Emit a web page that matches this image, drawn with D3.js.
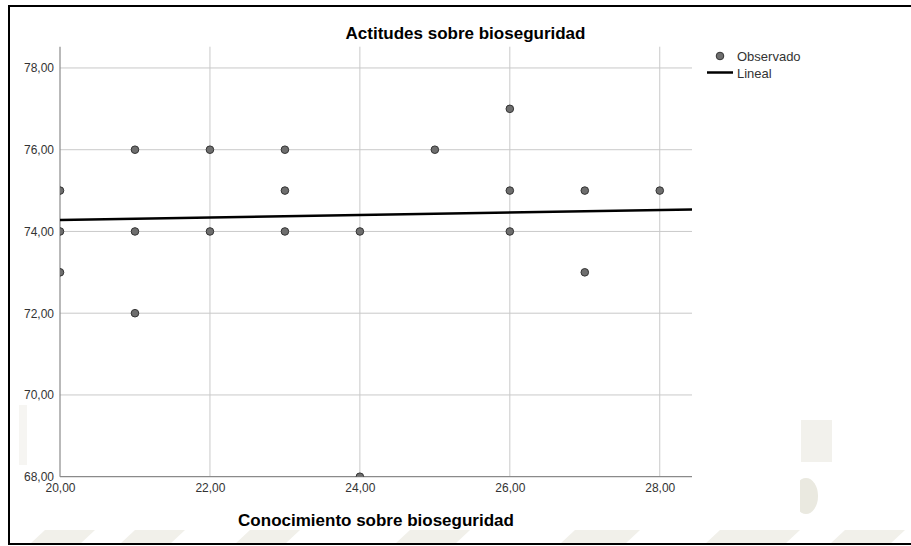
<!DOCTYPE html>
<html>
<head>
<meta charset="utf-8">
<script src="https://cdn.jsdelivr.net/npm/d3@7"></script>
<style>
  body { margin: 0; background: #fff; }
  text { font-family: "Liberation Sans", Arial, sans-serif; }
</style>
</head>
<body>
<div id="chart-area"></div>
<script>
// Observed points (Conocimiento, Actitudes)
var conocimiento = [20, 20, 20, 21, 21, 21, 22, 22, 23, 23, 23, 24, 24, 25, 26, 26, 26, 27, 27, 28];
var actitudes    = [75, 74, 73, 76, 74, 72, 76, 74, 76, 75, 74, 74, 68, 76, 77, 75, 74, 75, 73, 75];

// Linear fit (ends of the line)
var linealX = [20, 28.43];
var linealY = [74.28, 74.54];

var xTicks = [20, 22, 24, 26, 28];
var yTicks = [68, 70, 72, 74, 76, 78];

var data = conocimiento.map((c, i) => ({ x: c, y: actitudes[i] }));

var svg = d3.select("#chart-area").append("svg")
    .attr("width", 911)
    .attr("height", 546);

// faint watermark around the pasted chart
var wm = svg.append("g");
wm.append("rect").attr("x", 801).attr("y", 420).attr("width", 31).attr("height", 42).attr("fill", "#f2f1ec");
wm.append("ellipse").attr("cx", 806).attr("cy", 496).attr("rx", 12).attr("ry", 18).attr("fill", "#eae9e0");
wm.append("rect").attr("x", 19).attr("y", 405).attr("width", 8).attr("height", 60).attr("fill", "#f6f5f2");
[[30, 95], [120, 185], [235, 300], [395, 470], [560, 640], [705, 800], [830, 905]].forEach(s => {
    wm.append("polygon")
        .attr("points", `${s[0]},544 ${s[0] + 15},530 ${s[1]},530 ${s[1] - 15},544`)
        .attr("fill", "#f1f0ea");
});

// white chart panel
svg.append("rect").attr("x", 27).attr("y", 7).attr("width", 773).attr("height", 523).attr("fill", "#fff");

var x = d3.scaleLinear()
    .domain([20, 28.43])
    .range([60, 692]);

var y = d3.scaleLinear()
    .domain([68, 78.52])
    .range([476.7, 46.7]);

var fmt = v => d3.format(".2f")(v).replace(".", ",");

// gridlines
svg.append("g").selectAll("line")
    .data(yTicks.slice(1))
    .enter().append("line")
    .attr("x1", 60).attr("x2", 692)
    .attr("y1", d => y(d)).attr("y2", d => y(d))
    .attr("stroke", "#c9c9c9").attr("stroke-width", 1);

svg.append("g").selectAll("line")
    .data(xTicks.slice(1))
    .enter().append("line")
    .attr("x1", d => x(d)).attr("x2", d => x(d))
    .attr("y1", y.range()[1]).attr("y2", y.range()[0])
    .attr("stroke", "#c9c9c9").attr("stroke-width", 1);

// axes
var yAxis = svg.append("g")
    .attr("transform", "translate(60,0)")
    .call(d3.axisLeft(y).tickValues(yTicks).tickSize(0).tickPadding(6).tickFormat(fmt));
var xAxis = svg.append("g")
    .attr("transform", "translate(0,476.7)")
    .call(d3.axisBottom(x).tickValues(xTicks).tickSize(0).tickPadding(7).tickFormat(fmt));

[yAxis, xAxis].forEach(a => {
    a.select(".domain").remove();
    a.selectAll("text").attr("font-size", "12px").attr("fill", "#333")
        .style("font-family", "'Liberation Sans', Arial, sans-serif");
});

svg.append("line").attr("x1", 60).attr("x2", 60).attr("y1", 46.7).attr("y2", 476.7)
    .attr("stroke", "#8a8a8a").attr("stroke-width", 1.2);
svg.append("line").attr("x1", 60).attr("x2", 692).attr("y1", 476.7).attr("y2", 476.7)
    .attr("stroke", "#8a8a8a").attr("stroke-width", 1.2);

// clip marks to plot area
svg.append("clipPath").attr("id", "plot")
    .append("rect").attr("x", 60).attr("y", 40).attr("width", 640).attr("height", 436.7);

var marks = svg.append("g").attr("clip-path", "url(#plot)");

marks.append("line")
    .attr("x1", x(linealX[0])).attr("y1", y(linealY[0]))
    .attr("x2", x(linealX[1])).attr("y2", y(linealY[1]))
    .attr("stroke", "#000").attr("stroke-width", 2.5);

marks.selectAll("circle")
    .data(data)
    .enter().append("circle")
    .attr("cx", d => x(d.x))
    .attr("cy", d => y(d.y))
    .attr("r", 3.8)
    .attr("fill", "#6e6e6e")
    .attr("stroke", "#333")
    .attr("stroke-width", 1);

// titles
svg.append("text")
    .attr("x", 465.5).attr("y", 39)
    .attr("text-anchor", "middle")
    .attr("font-size", "17px").attr("font-weight", "bold")
    .text("Actitudes sobre bioseguridad");

svg.append("text")
    .attr("x", 376).attr("y", 526)
    .attr("text-anchor", "middle")
    .attr("font-size", "17px").attr("font-weight", "bold")
    .text("Conocimiento sobre bioseguridad");

// legend
svg.append("circle").attr("cx", 720).attr("cy", 56).attr("r", 3.8)
    .attr("fill", "#6e6e6e").attr("stroke", "#333").attr("stroke-width", 1);
svg.append("text").attr("x", 737).attr("y", 61).attr("font-size", "13px").attr("fill", "#333").text("Observado");
svg.append("line").attr("x1", 707).attr("x2", 733).attr("y1", 72.5).attr("y2", 72.5)
    .attr("stroke", "#000").attr("stroke-width", 2.5);
svg.append("text").attr("x", 737).attr("y", 78).attr("font-size", "13px").attr("fill", "#333").text("Lineal");

// frame
svg.append("rect").attr("x", 9).attr("y", 6).attr("width", 920).attr("height", 538)
    .attr("fill", "none").attr("stroke", "#000").attr("stroke-width", 2);
</script>
</body>
</html>
